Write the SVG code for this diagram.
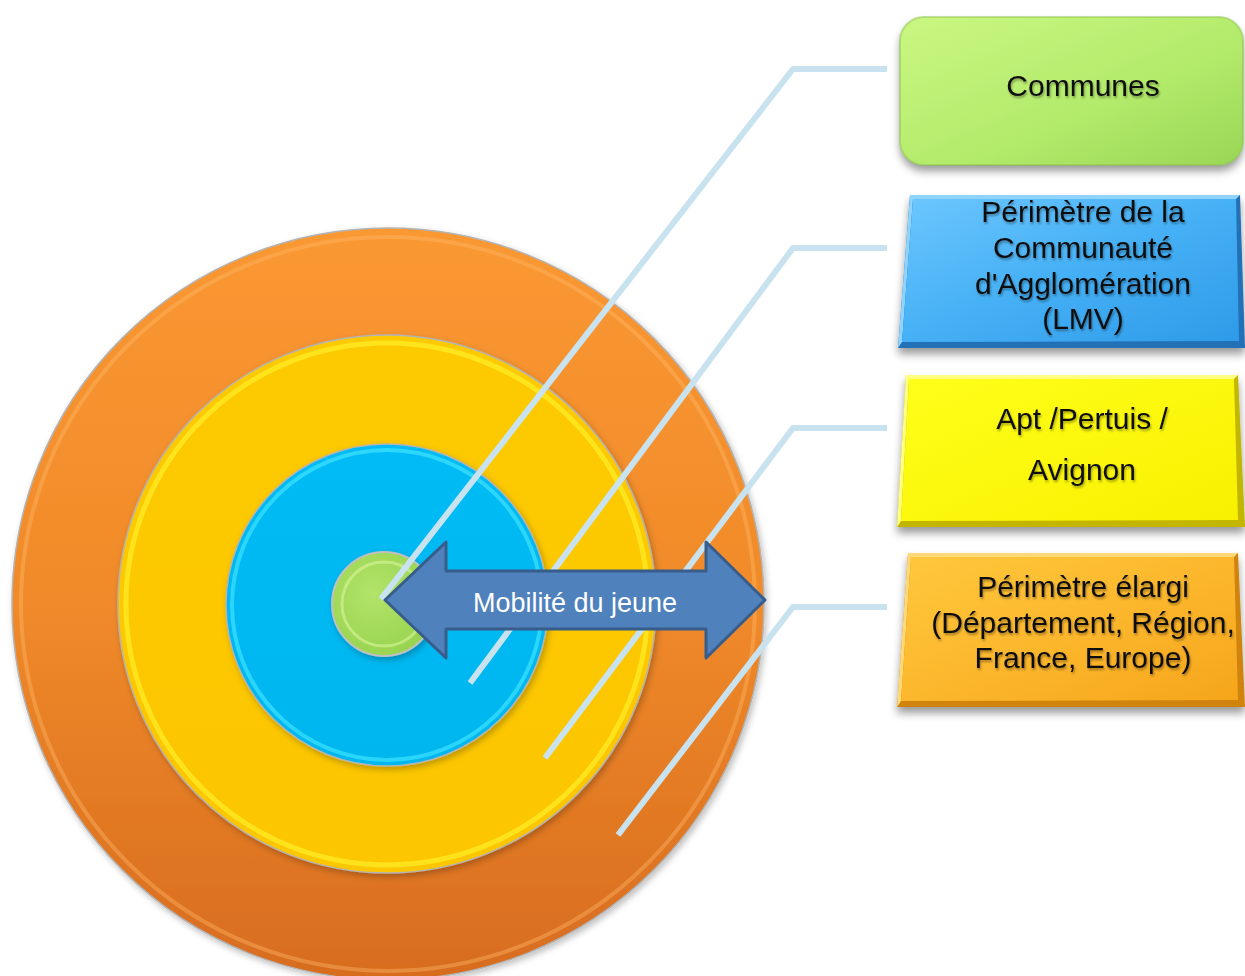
<svg xmlns="http://www.w3.org/2000/svg" width="1245" height="976" viewBox="0 0 1245 976">
<defs>
  <style>
    .lead{fill:none;stroke:#c8e3ef;stroke-width:6;stroke-linejoin:miter}
    .lbl{font-family:"Liberation Sans",Arial,sans-serif;font-size:30px;fill:#111;text-anchor:middle}
    .arrowtxt{font-family:"Liberation Sans",Arial,sans-serif;font-size:27px;fill:#ffffff;text-anchor:middle}
    .rimgray{fill:none;stroke:#b4b4b4;stroke-width:1.5}
  </style>
  <linearGradient id="gOrange" x1="0" y1="0" x2="0" y2="1">
    <stop offset="0" stop-color="#fa9832"/>
    <stop offset="0.5" stop-color="#f08a2a"/>
    <stop offset="1" stop-color="#d76c1f"/>
  </linearGradient>
  <linearGradient id="gYellow" x1="0" y1="0" x2="0" y2="1">
    <stop offset="0" stop-color="#fdca06"/>
    <stop offset="1" stop-color="#fcc600"/>
  </linearGradient>
  <linearGradient id="gBlue" x1="0" y1="0" x2="0" y2="1">
    <stop offset="0" stop-color="#04bbf5"/>
    <stop offset="1" stop-color="#00b6ef"/>
  </linearGradient>
  <radialGradient id="gGreen" cx="0.4" cy="0.4" r="0.7">
    <stop offset="0" stop-color="#b2e36a"/>
    <stop offset="1" stop-color="#95d24d"/>
  </radialGradient>
  <linearGradient id="gBox1" x1="0" y1="0" x2="1" y2="1">
    <stop offset="0" stop-color="#caf782"/>
    <stop offset="0.6" stop-color="#b2ea6a"/>
    <stop offset="1" stop-color="#9ad656"/>
  </linearGradient>
  <linearGradient id="gBox2" x1="0" y1="0" x2="1" y2="1">
    <stop offset="0" stop-color="#6cc6fd"/>
    <stop offset="0.5" stop-color="#45b0f5"/>
    <stop offset="1" stop-color="#2f9be9"/>
  </linearGradient>
  <linearGradient id="gBox3" x1="0" y1="0" x2="1" y2="1">
    <stop offset="0" stop-color="#ffff1a"/>
    <stop offset="1" stop-color="#f8f000"/>
  </linearGradient>
  <linearGradient id="gBox4" x1="0" y1="0" x2="1" y2="1">
    <stop offset="0" stop-color="#ffc83c"/>
    <stop offset="0.6" stop-color="#fbb42a"/>
    <stop offset="1" stop-color="#f5a51a"/>
  </linearGradient>
  <filter id="shCircle" x="-10%" y="-10%" width="120%" height="120%">
    <feDropShadow dx="2" dy="3" stdDeviation="3" flood-color="#000" flood-opacity="0.25"/>
  </filter>
  <filter id="shBox" x="-10%" y="-20%" width="120%" height="150%">
    <feDropShadow dx="0" dy="6" stdDeviation="4" flood-color="#000" flood-opacity="0.4"/>
  </filter>
  <filter id="shText" x="-10%" y="-20%" width="120%" height="150%">
    <feDropShadow dx="1" dy="2" stdDeviation="1.2" flood-color="#000" flood-opacity="0.35"/>
  </filter>
</defs>

<g id="circle-orange" filter="url(#shCircle)">
  <circle cx="388" cy="604" r="376" fill="url(#gOrange)"/>
  <circle cx="388" cy="604" r="376" class="rimgray"/>
  <circle cx="388" cy="604" r="367" fill="none" stroke="#ffb868" stroke-opacity="0.4" stroke-width="4"/>
</g>
<g id="circle-yellow" filter="url(#shCircle)">
  <circle cx="387" cy="604" r="269" fill="url(#gYellow)"/>
  <circle cx="387" cy="604" r="269" class="rimgray"/>
  <circle cx="387" cy="604" r="261" fill="none" stroke="#ffec28" stroke-opacity="0.75" stroke-width="5"/>
</g>
<g id="circle-blue" filter="url(#shCircle)">
  <circle cx="387" cy="605" r="161" fill="url(#gBlue)"/>
  <circle cx="387" cy="605" r="161" class="rimgray"/>
  <circle cx="387" cy="605" r="155" fill="none" stroke="#3ee2ff" stroke-opacity="0.7" stroke-width="4"/>
</g>
<g id="circle-green" filter="url(#shCircle)">
  <circle cx="384" cy="604" r="52" fill="url(#gGreen)"/>
  <circle cx="384" cy="604" r="52" fill="none" stroke="#c0c0c0" stroke-width="2"/>
  <circle cx="384" cy="604" r="42" fill="none" stroke="#d8f59a" stroke-opacity="0.6" stroke-width="3"/>
</g>

<g id="connectors">
  <polyline class="lead" points="381,599 793,69 887,69"/>
  <polyline class="lead" points="470,683 793,248 887,248"/>
  <polyline class="lead" points="545,758 793,428 887,428"/>
  <polyline class="lead" points="618,835 793,607 887,607"/>
</g>

<g id="arrow-mobilite">
  <polygon points="385,600 446,542 446,571 706,571 706,542 765,600 706,658 706,629 446,629 446,658" fill="#4f81bd" stroke="#385d8a" stroke-width="3" stroke-linejoin="round"/>
  <text class="arrowtxt" x="575" y="612">Mobilité du jeune</text>
</g>

<g id="box-communes">
  <rect x="900" y="17" width="343" height="148" rx="24" fill="url(#gBox1)" filter="url(#shBox)"/>
  <rect x="900" y="17" width="343" height="148" rx="24" fill="none" stroke="#8cc44a" stroke-opacity="0.5" stroke-width="2"/>
  <text class="lbl" x="1083" y="96" filter="url(#shText)">Communes</text>
</g>

<g id="box-agglo">
  <polygon points="910,195 1240,195 1245,348 898,348" fill="#2070b5" filter="url(#shBox)"/>
  <polygon points="910,195 1240,195 1236,199 913,199 902,342 898,348" fill="#8fd4ff"/>
  <polygon points="913,199 1236,199 1239,341 902,342" fill="url(#gBox2)"/>
  <g filter="url(#shText)">
    <text class="lbl" x="1083" y="222">Périmètre de la</text>
    <text class="lbl" x="1083" y="258">Communauté</text>
    <text class="lbl" x="1083" y="294">d'Agglomération</text>
    <text class="lbl" x="1083" y="329">(LMV)</text>
  </g>
</g>

<g id="box-apt">
  <polygon points="906,375 1238,375 1245,527 897,527" fill="#c2b600" filter="url(#shBox)"/>
  <polygon points="906,375 1238,375 1234,379 909,379 901,521 897,527" fill="#ffff80"/>
  <polygon points="909,379 1234,379 1238,520 901,521" fill="url(#gBox3)"/>
  <g filter="url(#shText)">
    <text class="lbl" x="1082" y="429">Apt /Pertuis /</text>
    <text class="lbl" x="1082" y="480">Avignon</text>
  </g>
</g>

<g id="box-elargi">
  <polygon points="908,553 1238,553 1245,707 897,707" fill="#d0840e" filter="url(#shBox)"/>
  <polygon points="908,553 1238,553 1234,557 911,557 901,701 897,707" fill="#ffd878"/>
  <polygon points="911,557 1234,557 1238,700 901,701" fill="url(#gBox4)"/>
  <g filter="url(#shText)">
    <text class="lbl" x="1083" y="597">Périmètre élargi</text>
    <text class="lbl" x="1083" y="633">(Département, Région,</text>
    <text class="lbl" x="1083" y="668">France, Europe)</text>
  </g>
</g>
</svg>
